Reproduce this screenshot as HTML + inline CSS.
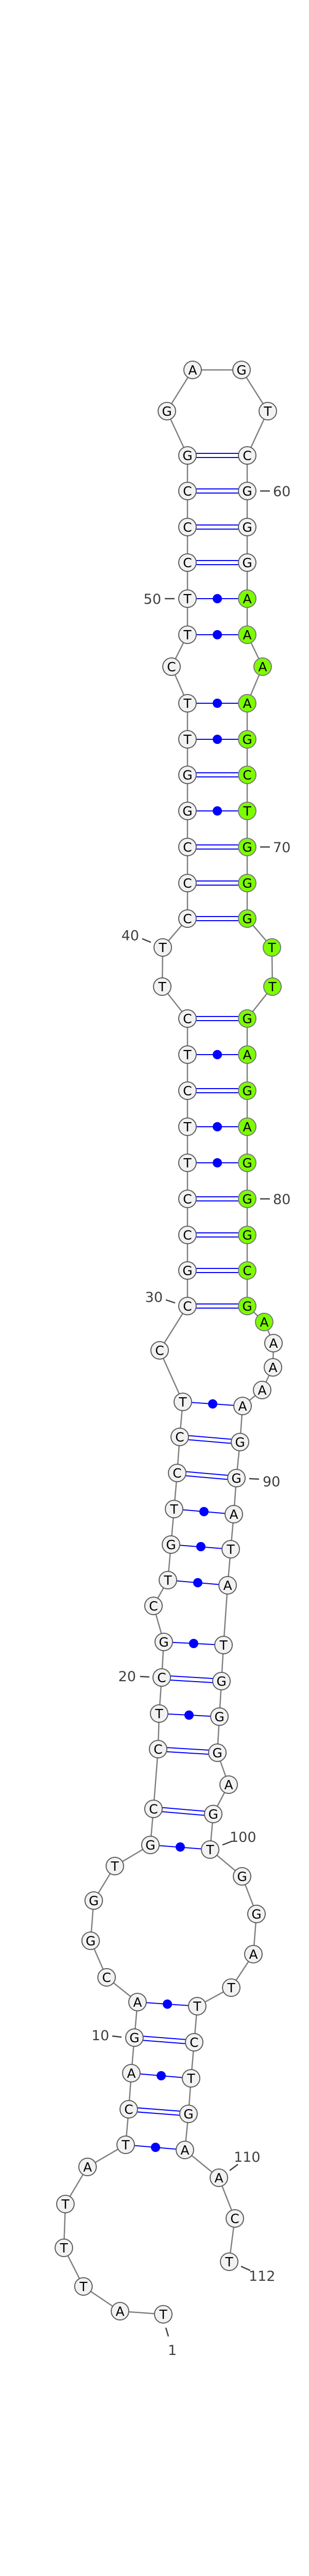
<!DOCTYPE html>
<html><head><meta charset="utf-8"><style>
html,body{margin:0;padding:0;background:#fff;width:600px;height:5174px;overflow:hidden;}
svg{display:block;overflow:hidden;}
.n{fill:#f2f2f2;stroke:#5e5e5e;stroke-width:2;}
.g{fill:#7cfc00;stroke:#7a7a7a;stroke-width:2;}
.t{font-family:"DejaVu Sans","Liberation Sans",sans-serif;font-size:25px;text-anchor:middle;fill:#000;}
.l{font-family:"DejaVu Sans","Liberation Sans",sans-serif;font-size:27px;fill:#404040;}
.d{stroke:#404040;stroke-width:2.5;}
.p{stroke:#0000ff;stroke-width:2;}
</style></head><body>
<svg width="600" height="5174" viewBox="0 0 600 5174" xmlns="http://www.w3.org/2000/svg">
<polyline fill="none" stroke="#808080" stroke-width="2.5" points="317,4492 233,4486 162,4438 124,4363 127,4278 170,4206 244,4163 250,4094 255,4024 261,3955 267,3886 207,3838 176,3767 182,3689 223,3622 292,3581 298,3511 307,3395 309,3326 314,3256 318,3187 298,3117 326,3067 332,2998 338,2929 344,2859 349,2789 355,2721 310,2621 364,2535 364,2466 364,2397 364,2327 364,2257 364,2187 364,2117 364,2047 364,1977 315,1915 316,1839 364,1783 364,1714 364,1644 364,1574 364,1504 364,1435 364,1365 333,1294 364,1232 364,1162 364,1092 364,1023 364,953 364,884 324,798 374,718 469,718 520,798 480,884 480,953 480,1023 480,1092 480,1162 480,1232 510,1294 480,1365 480,1435 480,1504 480,1574 480,1644 480,1714 480,1783 528,1839 529,1915 480,1977 480,2047 480,2117 480,2187 480,2257 480,2327 480,2397 480,2466 480,2535 513,2566 531,2607 530,2654 509,2698 471,2729 466,2799 459,2869 454,2939 448,3007 442,3077 434,3193 430,3263 426,3332 422,3402 444,3464 414,3521 408,3590 470,3642 498,3715 492,3793 449,3858 383,3894 377,3964 371,4034 366,4103 359,4173 425,4227 456,4306 445,4390"/>
<g class="p">
<line x1="364" y1="880" x2="480" y2="880"/><line x1="364" y1="888" x2="480" y2="888"/>
<line x1="364" y1="949" x2="480" y2="949"/><line x1="364" y1="957" x2="480" y2="957"/>
<line x1="364" y1="1019" x2="480" y2="1019"/><line x1="364" y1="1027" x2="480" y2="1027"/>
<line x1="364" y1="1088" x2="480" y2="1088"/><line x1="364" y1="1096" x2="480" y2="1096"/>
<line x1="364" y1="1500" x2="480" y2="1500"/><line x1="364" y1="1508" x2="480" y2="1508"/>
<line x1="364" y1="1640" x2="480" y2="1640"/><line x1="364" y1="1648" x2="480" y2="1648"/>
<line x1="364" y1="1710" x2="480" y2="1710"/><line x1="364" y1="1718" x2="480" y2="1718"/>
<line x1="364" y1="1779" x2="480" y2="1779"/><line x1="364" y1="1787" x2="480" y2="1787"/>
<line x1="364" y1="1973" x2="480" y2="1973"/><line x1="364" y1="1981" x2="480" y2="1981"/>
<line x1="364" y1="2113" x2="480" y2="2113"/><line x1="364" y1="2121" x2="480" y2="2121"/>
<line x1="364" y1="2323" x2="480" y2="2323"/><line x1="364" y1="2331" x2="480" y2="2331"/>
<line x1="364" y1="2393" x2="480" y2="2393"/><line x1="364" y1="2401" x2="480" y2="2401"/>
<line x1="364" y1="2462" x2="480" y2="2462"/><line x1="364" y1="2470" x2="480" y2="2470"/>
<line x1="364" y1="2531" x2="480" y2="2531"/><line x1="364" y1="2539" x2="480" y2="2539"/>
<line x1="349" y1="2785" x2="466" y2="2795"/><line x1="349" y1="2793" x2="466" y2="2803"/>
<line x1="344" y1="2855" x2="459" y2="2865"/><line x1="344" y1="2863" x2="459" y2="2873"/>
<line x1="314" y1="3252" x2="430" y2="3259"/><line x1="314" y1="3260" x2="430" y2="3267"/>
<line x1="307" y1="3391" x2="422" y2="3398"/><line x1="307" y1="3399" x2="422" y2="3406"/>
<line x1="298" y1="3507" x2="414" y2="3517"/><line x1="298" y1="3515" x2="414" y2="3525"/>
<line x1="261" y1="3951" x2="377" y2="3960"/><line x1="261" y1="3959" x2="377" y2="3968"/>
<line x1="250" y1="4090" x2="366" y2="4099"/><line x1="250" y1="4098" x2="366" y2="4107"/>
</g>
<g class="p">
<line x1="364" y1="1162" x2="480" y2="1162"/><line x1="364" y1="1232" x2="480" y2="1232"/>
<line x1="364" y1="1365" x2="480" y2="1365"/><line x1="364" y1="1435" x2="480" y2="1435"/>
<line x1="364" y1="1574" x2="480" y2="1574"/><line x1="364" y1="2047" x2="480" y2="2047"/>
<line x1="364" y1="2187" x2="480" y2="2187"/><line x1="364" y1="2257" x2="480" y2="2257"/>
<line x1="355" y1="2721" x2="471" y2="2729"/><line x1="338" y1="2929" x2="454" y2="2939"/>
<line x1="332" y1="2998" x2="448" y2="3007"/><line x1="326" y1="3067" x2="442" y2="3077"/>
<line x1="318" y1="3187" x2="434" y2="3193"/><line x1="309" y1="3326" x2="426" y2="3332"/>
<line x1="292" y1="3581" x2="408" y2="3590"/><line x1="267" y1="3886" x2="383" y2="3894"/>
<line x1="255" y1="4024" x2="371" y2="4034"/><line x1="244" y1="4163" x2="359" y2="4173"/>
</g>
<g fill="#0000ff">
<circle cx="422" cy="1162" r="9"/><circle cx="422" cy="1232" r="9"/>
<circle cx="422" cy="1365" r="9"/><circle cx="422" cy="1435" r="9"/>
<circle cx="422" cy="1574" r="9"/><circle cx="422" cy="2047" r="9"/>
<circle cx="422" cy="2187" r="9"/><circle cx="422" cy="2257" r="9"/>
<circle cx="413" cy="2725" r="9"/><circle cx="396" cy="2934" r="9"/>
<circle cx="390" cy="3002" r="9"/><circle cx="384" cy="3072" r="9"/>
<circle cx="376" cy="3190" r="9"/><circle cx="367" cy="3329" r="9"/>
<circle cx="350" cy="3585" r="9"/><circle cx="325" cy="3890" r="9"/>
<circle cx="313" cy="4029" r="9"/><circle cx="302" cy="4168" r="9"/>
</g>
<g>
<circle class="n" cx="317" cy="4492" r="17"/><text class="t" x="317" y="4501">T</text>
<circle class="n" cx="233" cy="4486" r="17"/><text class="t" x="233" y="4495">A</text>
<circle class="n" cx="162" cy="4438" r="17"/><text class="t" x="162" y="4447">T</text>
<circle class="n" cx="124" cy="4363" r="17"/><text class="t" x="124" y="4372">T</text>
<circle class="n" cx="127" cy="4278" r="17"/><text class="t" x="127" y="4287">T</text>
<circle class="n" cx="170" cy="4206" r="17"/><text class="t" x="170" y="4215">A</text>
<circle class="n" cx="244" cy="4163" r="17"/><text class="t" x="244" y="4172">T</text>
<circle class="n" cx="250" cy="4094" r="17"/><text class="t" x="250" y="4103">C</text>
<circle class="n" cx="255" cy="4024" r="17"/><text class="t" x="255" y="4033">A</text>
<circle class="n" cx="261" cy="3955" r="17"/><text class="t" x="261" y="3964">G</text>
<circle class="n" cx="267" cy="3886" r="17"/><text class="t" x="267" y="3895">A</text>
<circle class="n" cx="207" cy="3838" r="17"/><text class="t" x="207" y="3847">C</text>
<circle class="n" cx="176" cy="3767" r="17"/><text class="t" x="176" y="3776">G</text>
<circle class="n" cx="182" cy="3689" r="17"/><text class="t" x="182" y="3698">G</text>
<circle class="n" cx="223" cy="3622" r="17"/><text class="t" x="223" y="3631">T</text>
<circle class="n" cx="292" cy="3581" r="17"/><text class="t" x="292" y="3590">G</text>
<circle class="n" cx="298" cy="3511" r="17"/><text class="t" x="298" y="3520">C</text>
<circle class="n" cx="307" cy="3395" r="17"/><text class="t" x="307" y="3404">C</text>
<circle class="n" cx="309" cy="3326" r="17"/><text class="t" x="309" y="3335">T</text>
<circle class="n" cx="314" cy="3256" r="17"/><text class="t" x="314" y="3265">C</text>
<circle class="n" cx="318" cy="3187" r="17"/><text class="t" x="318" y="3196">G</text>
<circle class="n" cx="298" cy="3117" r="17"/><text class="t" x="298" y="3126">C</text>
<circle class="n" cx="326" cy="3067" r="17"/><text class="t" x="326" y="3076">T</text>
<circle class="n" cx="332" cy="2998" r="17"/><text class="t" x="332" y="3007">G</text>
<circle class="n" cx="338" cy="2929" r="17"/><text class="t" x="338" y="2938">T</text>
<circle class="n" cx="344" cy="2859" r="17"/><text class="t" x="344" y="2868">C</text>
<circle class="n" cx="349" cy="2789" r="17"/><text class="t" x="349" y="2798">C</text>
<circle class="n" cx="355" cy="2721" r="17"/><text class="t" x="355" y="2730">T</text>
<circle class="n" cx="310" cy="2621" r="17"/><text class="t" x="310" y="2630">C</text>
<circle class="n" cx="364" cy="2535" r="17"/><text class="t" x="364" y="2544">C</text>
<circle class="n" cx="364" cy="2466" r="17"/><text class="t" x="364" y="2475">G</text>
<circle class="n" cx="364" cy="2397" r="17"/><text class="t" x="364" y="2406">C</text>
<circle class="n" cx="364" cy="2327" r="17"/><text class="t" x="364" y="2336">C</text>
<circle class="n" cx="364" cy="2257" r="17"/><text class="t" x="364" y="2266">T</text>
<circle class="n" cx="364" cy="2187" r="17"/><text class="t" x="364" y="2196">T</text>
<circle class="n" cx="364" cy="2117" r="17"/><text class="t" x="364" y="2126">C</text>
<circle class="n" cx="364" cy="2047" r="17"/><text class="t" x="364" y="2056">T</text>
<circle class="n" cx="364" cy="1977" r="17"/><text class="t" x="364" y="1986">C</text>
<circle class="n" cx="315" cy="1915" r="17"/><text class="t" x="315" y="1924">T</text>
<circle class="n" cx="316" cy="1839" r="17"/><text class="t" x="316" y="1848">T</text>
<circle class="n" cx="364" cy="1783" r="17"/><text class="t" x="364" y="1792">C</text>
<circle class="n" cx="364" cy="1714" r="17"/><text class="t" x="364" y="1723">C</text>
<circle class="n" cx="364" cy="1644" r="17"/><text class="t" x="364" y="1653">C</text>
<circle class="n" cx="364" cy="1574" r="17"/><text class="t" x="364" y="1583">G</text>
<circle class="n" cx="364" cy="1504" r="17"/><text class="t" x="364" y="1513">G</text>
<circle class="n" cx="364" cy="1435" r="17"/><text class="t" x="364" y="1444">T</text>
<circle class="n" cx="364" cy="1365" r="17"/><text class="t" x="364" y="1374">T</text>
<circle class="n" cx="333" cy="1294" r="17"/><text class="t" x="333" y="1303">C</text>
<circle class="n" cx="364" cy="1232" r="17"/><text class="t" x="364" y="1241">T</text>
<circle class="n" cx="364" cy="1162" r="17"/><text class="t" x="364" y="1171">T</text>
<circle class="n" cx="364" cy="1092" r="17"/><text class="t" x="364" y="1101">C</text>
<circle class="n" cx="364" cy="1023" r="17"/><text class="t" x="364" y="1032">C</text>
<circle class="n" cx="364" cy="953" r="17"/><text class="t" x="364" y="962">C</text>
<circle class="n" cx="364" cy="884" r="17"/><text class="t" x="364" y="893">G</text>
<circle class="n" cx="324" cy="798" r="17"/><text class="t" x="324" y="807">G</text>
<circle class="n" cx="374" cy="718" r="17"/><text class="t" x="374" y="727">A</text>
<circle class="n" cx="469" cy="718" r="17"/><text class="t" x="469" y="727">G</text>
<circle class="n" cx="520" cy="798" r="17"/><text class="t" x="520" y="807">T</text>
<circle class="n" cx="480" cy="884" r="17"/><text class="t" x="480" y="893">C</text>
<circle class="n" cx="480" cy="953" r="17"/><text class="t" x="480" y="962">G</text>
<circle class="n" cx="480" cy="1023" r="17"/><text class="t" x="480" y="1032">G</text>
<circle class="n" cx="480" cy="1092" r="17"/><text class="t" x="480" y="1101">G</text>
<circle class="g" cx="480" cy="1162" r="17"/><text class="t" x="480" y="1171">A</text>
<circle class="g" cx="480" cy="1232" r="17"/><text class="t" x="480" y="1241">A</text>
<circle class="g" cx="510" cy="1294" r="17"/><text class="t" x="510" y="1303">A</text>
<circle class="g" cx="480" cy="1365" r="17"/><text class="t" x="480" y="1374">A</text>
<circle class="g" cx="480" cy="1435" r="17"/><text class="t" x="480" y="1444">G</text>
<circle class="g" cx="480" cy="1504" r="17"/><text class="t" x="480" y="1513">C</text>
<circle class="g" cx="480" cy="1574" r="17"/><text class="t" x="480" y="1583">T</text>
<circle class="g" cx="480" cy="1644" r="17"/><text class="t" x="480" y="1653">G</text>
<circle class="g" cx="480" cy="1714" r="17"/><text class="t" x="480" y="1723">G</text>
<circle class="g" cx="480" cy="1783" r="17"/><text class="t" x="480" y="1792">G</text>
<circle class="g" cx="528" cy="1839" r="17"/><text class="t" x="528" y="1848">T</text>
<circle class="g" cx="529" cy="1915" r="17"/><text class="t" x="529" y="1924">T</text>
<circle class="g" cx="480" cy="1977" r="17"/><text class="t" x="480" y="1986">G</text>
<circle class="g" cx="480" cy="2047" r="17"/><text class="t" x="480" y="2056">A</text>
<circle class="g" cx="480" cy="2117" r="17"/><text class="t" x="480" y="2126">G</text>
<circle class="g" cx="480" cy="2187" r="17"/><text class="t" x="480" y="2196">A</text>
<circle class="g" cx="480" cy="2257" r="17"/><text class="t" x="480" y="2266">G</text>
<circle class="g" cx="480" cy="2327" r="17"/><text class="t" x="480" y="2336">G</text>
<circle class="g" cx="480" cy="2397" r="17"/><text class="t" x="480" y="2406">G</text>
<circle class="g" cx="480" cy="2466" r="17"/><text class="t" x="480" y="2475">C</text>
<circle class="g" cx="480" cy="2535" r="17"/><text class="t" x="480" y="2544">G</text>
<circle class="g" cx="513" cy="2566" r="17"/><text class="t" x="513" y="2575">A</text>
<circle class="n" cx="531" cy="2607" r="17"/><text class="t" x="531" y="2616">A</text>
<circle class="n" cx="530" cy="2654" r="17"/><text class="t" x="530" y="2663">A</text>
<circle class="n" cx="509" cy="2698" r="17"/><text class="t" x="509" y="2707">A</text>
<circle class="n" cx="471" cy="2729" r="17"/><text class="t" x="471" y="2738">A</text>
<circle class="n" cx="466" cy="2799" r="17"/><text class="t" x="466" y="2808">G</text>
<circle class="n" cx="459" cy="2869" r="17"/><text class="t" x="459" y="2878">G</text>
<circle class="n" cx="454" cy="2939" r="17"/><text class="t" x="454" y="2948">A</text>
<circle class="n" cx="448" cy="3007" r="17"/><text class="t" x="448" y="3016">T</text>
<circle class="n" cx="442" cy="3077" r="17"/><text class="t" x="442" y="3086">A</text>
<circle class="n" cx="434" cy="3193" r="17"/><text class="t" x="434" y="3202">T</text>
<circle class="n" cx="430" cy="3263" r="17"/><text class="t" x="430" y="3272">G</text>
<circle class="n" cx="426" cy="3332" r="17"/><text class="t" x="426" y="3341">G</text>
<circle class="n" cx="422" cy="3402" r="17"/><text class="t" x="422" y="3411">G</text>
<circle class="n" cx="444" cy="3464" r="17"/><text class="t" x="444" y="3473">A</text>
<circle class="n" cx="414" cy="3521" r="17"/><text class="t" x="414" y="3530">G</text>
<circle class="n" cx="408" cy="3590" r="17"/><text class="t" x="408" y="3599">T</text>
<circle class="n" cx="470" cy="3642" r="17"/><text class="t" x="470" y="3651">G</text>
<circle class="n" cx="498" cy="3715" r="17"/><text class="t" x="498" y="3724">G</text>
<circle class="n" cx="492" cy="3793" r="17"/><text class="t" x="492" y="3802">A</text>
<circle class="n" cx="449" cy="3858" r="17"/><text class="t" x="449" y="3867">T</text>
<circle class="n" cx="383" cy="3894" r="17"/><text class="t" x="383" y="3903">T</text>
<circle class="n" cx="377" cy="3964" r="17"/><text class="t" x="377" y="3973">C</text>
<circle class="n" cx="371" cy="4034" r="17"/><text class="t" x="371" y="4043">T</text>
<circle class="n" cx="366" cy="4103" r="17"/><text class="t" x="366" y="4112">G</text>
<circle class="n" cx="359" cy="4173" r="17"/><text class="t" x="359" y="4182">A</text>
<circle class="n" cx="425" cy="4227" r="17"/><text class="t" x="425" y="4236">A</text>
<circle class="n" cx="456" cy="4306" r="17"/><text class="t" x="456" y="4315">C</text>
<circle class="n" cx="445" cy="4390" r="17"/><text class="t" x="445" y="4399">T</text>
</g>
<g class="d">
<line x1="505" y1="953" x2="524" y2="953"/>
<line x1="505" y1="1644" x2="524" y2="1644"/>
<line x1="505" y1="2327" x2="524" y2="2327"/>
<line x1="320" y1="1162" x2="339" y2="1162"/>
<line x1="276" y1="1822" x2="293" y2="1829"/>
<line x1="322" y1="2523" x2="340" y2="2529"/>
<line x1="484" y1="2870" x2="503" y2="2871"/>
<line x1="272" y1="3254" x2="290" y2="3255"/>
<line x1="432" y1="3581" x2="450" y2="3574"/>
<line x1="218" y1="3952" x2="236" y2="3954"/>
<line x1="446" y1="4213" x2="462" y2="4201"/>
<line x1="468" y1="4399" x2="486" y2="4407"/>
<line x1="322" y1="4518" x2="327" y2="4535"/>
</g>
<text class="l" x="530" y="963">60</text>
<text class="l" x="530" y="1654">70</text>
<text class="l" x="530" y="2337">80</text>
<text class="l" x="313" y="1172" text-anchor="end">50</text>
<text class="l" x="270" y="1825" text-anchor="end">40</text>
<text class="l" x="316" y="2527" text-anchor="end">30</text>
<text class="l" x="510" y="2885">90</text>
<text class="l" x="264" y="3263" text-anchor="end">20</text>
<text class="l" x="446" y="3575">100</text>
<text class="l" x="212" y="3960" text-anchor="end">10</text>
<text class="l" x="454" y="4196">110</text>
<text class="l" x="483" y="4427">112</text>
<text class="l" x="326" y="4571">1</text>
<text x="300" y="5165" text-anchor="middle" font-family="'Liberation Sans',sans-serif" font-weight="bold" font-size="11" textLength="170" fill="#000">rno-mir-320_annot [-54.9]</text>
</svg>
</body></html>
